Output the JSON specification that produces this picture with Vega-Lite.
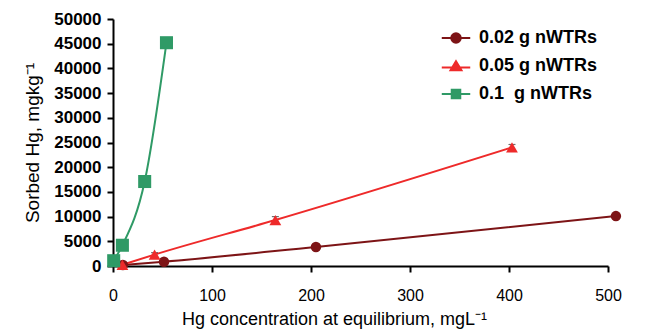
{
  "$schema": "https://vega.github.io/schema/vega-lite/v6.json",
  "width": 495,
  "height": 247,
  "autosize": "none",
  "padding": {"left": 113, "top": 19, "right": 45, "bottom": 68},
  "background": "white",
  "config": {"view": {"stroke": null}, "font": "Liberation Sans"},
  "data": {"values": [
    {"s": "0.02 g nWTRs", "x": 10, "y": 200},
    {"s": "0.02 g nWTRs", "x": 51.5, "y": 870},
    {"s": "0.02 g nWTRs", "x": 205, "y": 3850, "lo": 3550, "hi": 4150},
    {"s": "0.02 g nWTRs", "x": 508, "y": 10100, "lo": 9800, "hi": 10400},
    {"s": "0.05 g nWTRs", "x": 9.5, "y": 250},
    {"s": "0.05 g nWTRs", "x": 42, "y": 2300, "lo": 1900, "hi": 2700},
    {"s": "0.05 g nWTRs", "x": 164, "y": 9300, "lo": 8600, "hi": 10000},
    {"s": "0.05 g nWTRs", "x": 403, "y": 24000, "lo": 23400, "hi": 24600},
    {"s": "0.1\u00a0 g nWTRs", "x": 0.7, "y": 1070},
    {"s": "0.1\u00a0 g nWTRs", "x": 9.5, "y": 4200},
    {"s": "0.1\u00a0 g nWTRs", "x": 32, "y": 17100},
    {"s": "0.1\u00a0 g nWTRs", "x": 54, "y": 45200}
  ]},
  "encoding": {
    "x": {"field": "x", "type": "quantitative",
      "scale": {"domain": [0, 500], "nice": false, "zero": false},
      "axis": {"values": [0, 100, 200, 300, 400, 500], "grid": false, "labelFlush": false, "domainColor": "black", "domainWidth": 2,
        "tickColor": "black", "tickWidth": 2, "tickSize": 6, "labelPadding": 15,
        "labelFontSize": 16, "labelFont": "Liberation Sans", "labelColor": "black",
        "title": "Hg concentration at equilibrium, mgL\u207b\u00b9", "titleFontSize": 18, "titleFontWeight": "normal",
        "titleColor": "black", "titlePadding": 7, "titleX": 221}},
    "y": {"field": "y", "type": "quantitative",
      "scale": {"domain": [0, 50000], "nice": false},
      "axis": {"values": [0,5000,10000,15000,20000,25000,30000,35000,40000,45000,50000], "format": "d",
        "grid": false, "labelFlush": false, "domainColor": "black", "domainWidth": 2,
        "tickColor": "black", "tickWidth": 2, "tickSize": 6, "labelPadding": 6,
        "labelFontSize": 17, "labelFontWeight": "bold", "labelColor": "black",
        "title": "Sorbed Hg, mgkg\u207b\u00b9", "titleFontSize": 19, "titleFontWeight": "normal",
        "titleColor": "black", "titlePadding": 11}}
  },
  "layer": [
    {
      "mark": {"type": "line", "interpolate": "monotone", "strokeWidth": 2},
      "encoding": {
        "color": {"field": "s", "type": "nominal", "legend": null,
          "scale": {"domain": ["0.02 g nWTRs", "0.05 g nWTRs", "0.1\u00a0 g nWTRs"], "range": ["#7d1416", "#ee2a2a", "#2f9a66"]}}
      }
    },
    {
      "transform": [{"filter": "isValid(datum.lo)"}],
      "mark": {"type": "errorbar", "ticks": {"size": 7, "color": "#333333"}, "color": "#333333", "thickness": 1.2},
      "encoding": {
        "y": {"field": "lo", "type": "quantitative"},
        "y2": {"field": "hi"}
      }
    },
    {
      "mark": {"type": "point", "filled": true, "opacity": 1},
      "encoding": {
        "color": {"field": "s", "type": "nominal", "legend": null},
        "size": {"field": "s", "type": "nominal", "legend": null,
          "scale": {"domain": ["0.02 g nWTRs", "0.05 g nWTRs", "0.1\u00a0 g nWTRs"], "range": [110, 170, 135]}},
        "shape": {"field": "s", "type": "nominal", "legend": null,
          "scale": {"domain": ["0.02 g nWTRs", "0.05 g nWTRs", "0.1\u00a0 g nWTRs"], "range": ["circle", "triangle-up", "square"]}}
      }
    },
    {
      "mark": {"type": "point", "filled": true, "opacity": 0, "size": 100},
      "encoding": {
        "color": {"field": "s", "type": "nominal", "legend": null},
        "shape": {"field": "s", "type": "nominal",
          "scale": {"domain": ["0.02 g nWTRs", "0.05 g nWTRs", "0.1\u00a0 g nWTRs"],
            "range": ["M-3,0H3M-1,0A1,1,0,1,0,1,0A1,1,0,1,0,-1,0Z", "M-3,0.3H3M0,-1L1.15,0.9L-1.15,0.9Z", "M-3,0H3M-0.9,-0.9H0.9V0.9H-0.9Z"]},
          "legend": {"orient": "top-right", "offset": 10, "title": null,
            "labelFontSize": 18, "labelFontWeight": "bold", "labelColor": "black", "labelFont": "Liberation Sans",
            "symbolSize": 90, "labelOffset": 14, "rowPadding": 10, "symbolStrokeWidth": 2, "symbolOpacity": 1,
            "symbolFillColor": {"expr": "scale('color', datum.value)"},
            "symbolStrokeColor": {"expr": "scale('color', datum.value)"}}}
      }
    }
  ],
  "resolve": {"scale": {"shape": "independent"}}
}
